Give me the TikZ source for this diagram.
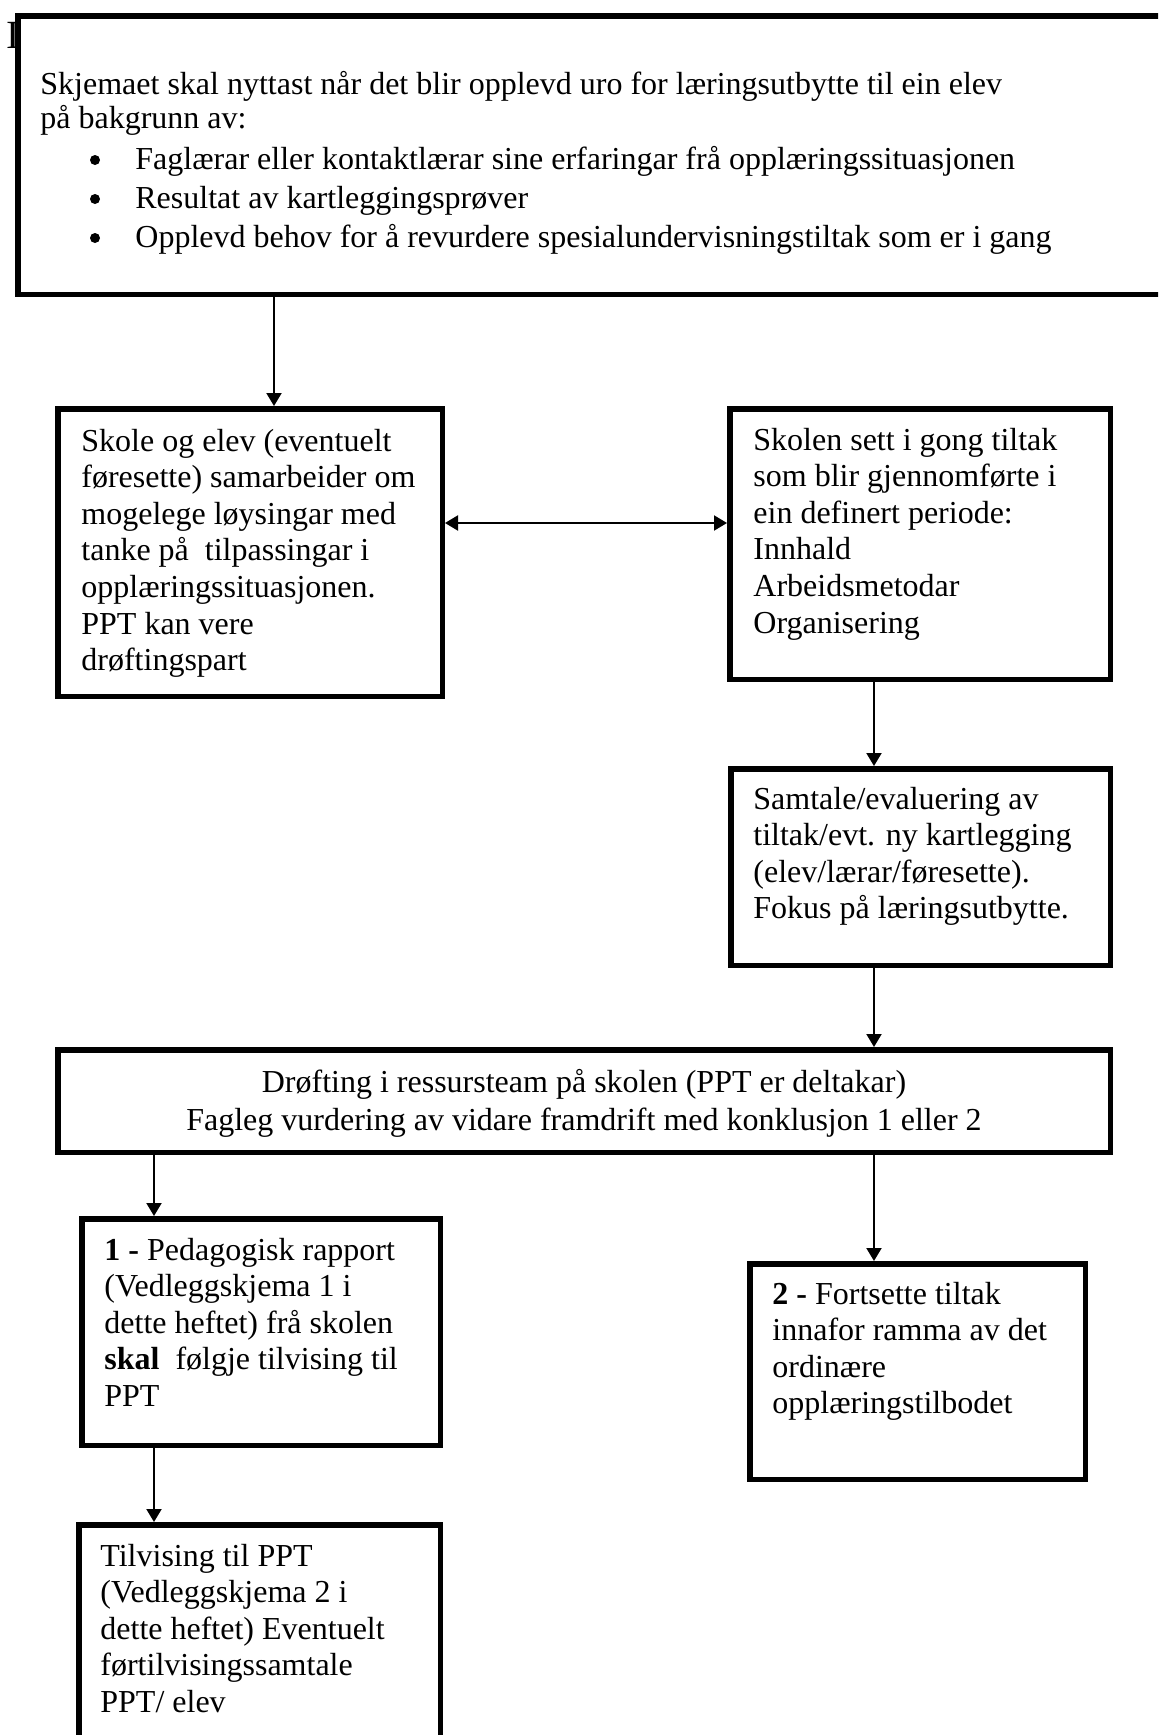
\documentclass[tikz,border=0pt]{standalone}
\usepackage{fontspec}
\setmainfont{Liberation Serif}
\usetikzlibrary{arrows.meta}
\begin{document}
\begin{tikzpicture}[x=0.5pt,y=-0.5pt,
  box/.style={draw=black,line width=2.75pt,fill=white,inner sep=0pt,anchor=north west},
  txt/.style={inner sep=0pt,font=\fontsize{16}{18.3}\selectfont},
  bul/.style={circle,fill=black,inner sep=0pt,minimum size=5pt},
  arr/.style={line width=1pt,-{Triangle[length=6.5pt,width=7.5pt]}},
  arrtwo/.style={line width=1pt,{Triangle[length=6.5pt,width=7.5pt]}-{Triangle[length=6.5pt,width=7.5pt]}}]
\useasboundingbox (0,0) rectangle (1158,1735);
\clip (0,0) rectangle (1158,1735);
\fill[white] (0,0) rectangle (1158,1735);
% fragment of a letter behind the top box
\node[inner sep=0pt,anchor=base west,font=\fontsize{20}{24}\selectfont] (frag) at (6,48) {I};
% boxes
\node[box,minimum width=577.25pt,minimum height=139.25pt] (b1) at (15,13) {};
\node[box,minimum width=192.25pt,minimum height=143.75pt] (b2) at (55,406) {};
\node[box,minimum width=190.25pt,minimum height=135.25pt] (b3) at (727,406) {};
\node[box,minimum width=189.75pt,minimum height=98.25pt] (b4) at (728,766) {};
\node[box,minimum width=526.25pt,minimum height=51.25pt] (b5) at (55,1047) {};
\node[box,minimum width=179.25pt,minimum height=113.25pt] (b6) at (79,1216) {};
\node[box,minimum width=167.75pt,minimum height=107.75pt] (b7) at (747,1261) {};
\node[box,minimum width=180.75pt,minimum height=126.25pt] (b8) at (76,1522) {};
% texts of the top box
\node[txt,anchor=base west] (t1a) at (40,94) {Skjemaet skal nyttast når det blir opplevd uro for læringsutbytte til ein elev};
\node[txt,anchor=base west] (t1b) at (40,128) {på bakgrunn av:};
\node[bul] (u1) at (95,160) {};
\node[bul] (u2) at (95,199) {};
\node[bul] (u3) at (95,238) {};
\node[txt,anchor=base west] (t1c) at (135,169) {Faglærar eller kontaktlærar sine erfaringar frå opplæringssituasjonen};
\node[txt,anchor=base west] (t1d) at (135,208) {Resultat av kartleggingsprøver};
\node[txt,anchor=base west] (t1e) at (135,247) {Opplevd behov for å revurdere spesialundervisningstiltak som er i gang};
% texts of the other boxes
\node[txt,anchor=base west] (t2) at (81,451) {\parbox[t]{185pt}{\raggedright Skole og elev (eventuelt\\føresette) samarbeider om\\mogelege løysingar med\\tanke på~ tilpassingar i\\opplæringssituasjonen.\\PPT kan vere\\drøftingspart}};
\node[txt,anchor=base west] (t3) at (753,450) {\parbox[t]{180pt}{\raggedright Skolen sett i gong tiltak\\som blir gjennomførte i\\ein definert periode:\\Innhald\\Arbeidsmetodar\\Organisering}};
\node[txt,anchor=base west] (t4) at (753,809) {\parbox[t]{180pt}{\raggedright Samtale/evaluering av\\tiltak/evt. ny kartlegging\\(elev/lærar/føresette).\\Fokus på læringsutbytte.}};
\node[txt,anchor=base] (t5) at (584,1092) {\parbox[t]{500pt}{\centering\fontsize{16}{19}\selectfont Drøfting i ressursteam på skolen (PPT er deltakar)\\Fagleg vurdering av vidare framdrift med konklusjon 1 eller 2}};
\node[txt,anchor=base west] (t6) at (104,1260) {\parbox[t]{175pt}{\raggedright\textbf{1 -} Pedagogisk rapport\\(Vedleggskjema 1 i\\dette heftet) frå skolen\\\textbf{skal}~ følgje tilvising til\\PPT}};
\node[txt,anchor=base west] (t7) at (772,1304) {\parbox[t]{160pt}{\raggedright\textbf{2 -} Fortsette tiltak\\innafor ramma av det\\ordinære\\opplæringstilbodet}};
\node[txt,anchor=base west] (t8) at (100,1566) {\parbox[t]{175pt}{\raggedright Tilvising til PPT\\(Vedleggskjema 2 i\\dette heftet) Eventuelt\\førtilvisingssamtale\\PPT/ elev}};
% connector positions
\coordinate (xa) at (274,0);
\coordinate (xb) at (874,0);
\coordinate (xc) at (154,0);
\coordinate (ya) at (0,523);
% connectors
\draw[arr] (b1.south -| xa) -- (b2.north -| xa);
\draw[arrtwo] (b2.east |- ya) -- (b3.west |- ya);
\draw[arr] (b3.south -| xb) -- (b4.north -| xb);
\draw[arr] (b4.south -| xb) -- (b5.north -| xb);
\draw[arr] (b5.south -| xb) -- (b7.north -| xb);
\draw[arr] (b5.south -| xc) -- (b6.north -| xc);
\draw[arr] (b6.south -| xc) -- (b8.north -| xc);
\end{tikzpicture}
\end{document}
